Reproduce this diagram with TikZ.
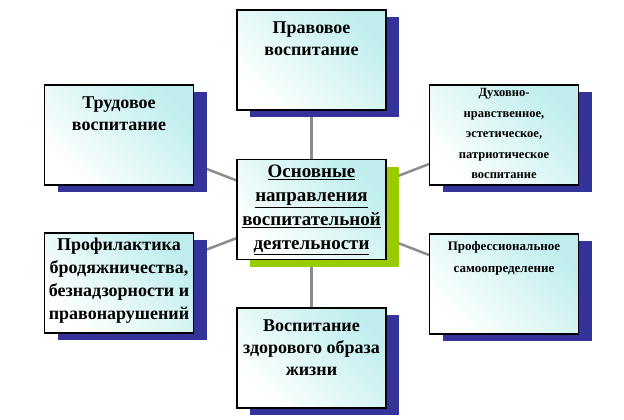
\documentclass[tikz,border=0pt]{standalone}
\usepackage{fontspec}
\setmainfont{Liberation Serif}
\definecolor{navy}{HTML}{333399}
\definecolor{lime}{HTML}{99CC00}
\begin{document}
\begin{tikzpicture}[x=1pt,y=-1pt,
box/.style={draw=black,line width=1.2pt,minimum width=149pt,minimum height=100pt,inner sep=0pt,
  shading=axis,left color=white,right color=cyan!45!teal!25!white,shading angle=135},
shadowbox/.style={fill=navy,minimum width=149pt,minimum height=100pt,inner sep=0pt},
greenshadow/.style={shadowbox,fill=lime},
big/.style={font=\bfseries\fontsize{18}{22}\selectfont,align=center,anchor=north,inner sep=0pt},
small/.style={font=\bfseries\fontsize{12.5}{20.5}\selectfont,align=center,anchor=north,inner sep=0pt},
link/.style={draw=black!45,line width=2.5pt}
]
\useasboundingbox (0,0) rectangle (624,420);
% node centres
\coordinate (cc) at (311.5,209.5);
\coordinate (tc) at (311.5,60);
\coordinate (ltc) at (119,135);
\coordinate (rtc) at (504,135);
\coordinate (lbc) at (119,283);
\coordinate (rbc) at (504,284);
\coordinate (bc) at (311.5,358);
% connectors
\foreach \n in {tc,ltc,rtc,lbc,rbc,bc}
  \draw[link] (cc) -- (\n);
% shadows
\foreach \n in {tc,ltc,rtc,lbc,rbc,bc}
  \node[shadowbox] at ([shift={(13,7)}]\n) {};
\node[greenshadow] at ([shift={(13,7)}]cc) {};
% boxes
\node[box] (t) at (tc) {};
\node[box] (lt) at (ltc) {};
\node[box] (rt) at (rtc) {};
\node[box] (lb) at (lbc) {};
\node[box] (rb) at (rbc) {};
\node[box] (b) at (bc) {};
\node[box] (c) at (cc) {};
% texts
\node[big] (tt) at ([yshift=-12]t.north) {Правовое\\воспитание};
\node[big] (ltt) at ([yshift=-12]lt.north) {Трудовое\\воспитание};
\node[small] (rtt) at ([yshift=-4]rt.north) {Духовно-\\нравственное,\\эстетическое,\\патриотическое\\воспитание};
\node[big,font=\bfseries\fontsize{18}{23}\selectfont] (lbt) at ([yshift=-5]lb.north) {Профилактика\\бродяжничества,\\безнадзорности и\\правонарушений};
\node[small,font=\bfseries\fontsize{13}{22}\selectfont] (rbt) at ([yshift=-8]rb.north) {Профессиональное\\самоопределение};
\node[big] (bt) at ([yshift=-12]b.north) {Воспитание\\здорового образа\\жизни};
\node[big,font=\bfseries\fontsize{19}{24}\selectfont] (ct) at ([yshift=-6]c.north) {\underline{Основные}\\\underline{направления}\\\underline{воспитательной}\\\underline{деятельности}};
\end{tikzpicture}
\end{document}
